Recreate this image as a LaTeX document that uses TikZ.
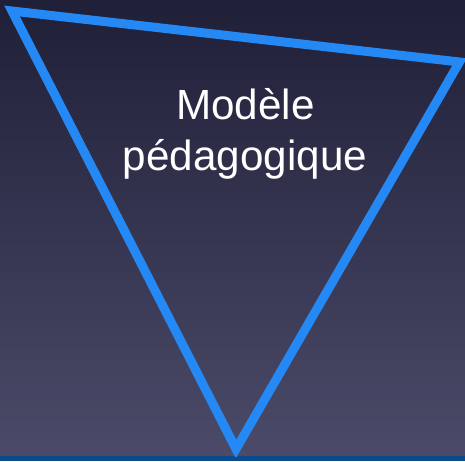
\documentclass[tikz,border=0pt]{standalone}
\usepackage{fontspec}
\setmainfont{Liberation Sans}
\definecolor{bgtop}{RGB}{31,31,56}
\definecolor{bgbottom}{RGB}{75,75,105}
\definecolor{barblue}{RGB}{11,74,140}
\definecolor{edgeblue}{RGB}{36,137,245}
\tikzset{
  edgeline/.style={draw=edgeblue, line width=9pt, line join=miter},
  caption/.style={text=white, anchor=base, inner sep=0pt,
    font=\fontsize{42.2}{51}\selectfont}
}
\begin{document}
\begin{tikzpicture}[x=1pt,y=-1pt]
  \useasboundingbox (0,0) rectangle (465,461);
  % background and bottom band
  \shade[top color=bgtop, bottom color=bgbottom] (0,0) rectangle (465,456);
  \fill[barblue] (0,456) rectangle (465,461);
  % inverted triangle
  \coordinate (tl) at (12,11);
  \coordinate (tr) at (459.5,62);
  \coordinate (tip) at (236,449);
  \begin{scope}
    \clip (0,0) rectangle (465,456);
    \draw[edgeline] (tl) -- (tr) -- (tip) -- cycle;
  \end{scope}
  % label
  \node[caption] (l1) at (245.5,119) {Modèle};
  \node[caption] (l2) at (245,170) {pédagogique};
\end{tikzpicture}
\end{document}
